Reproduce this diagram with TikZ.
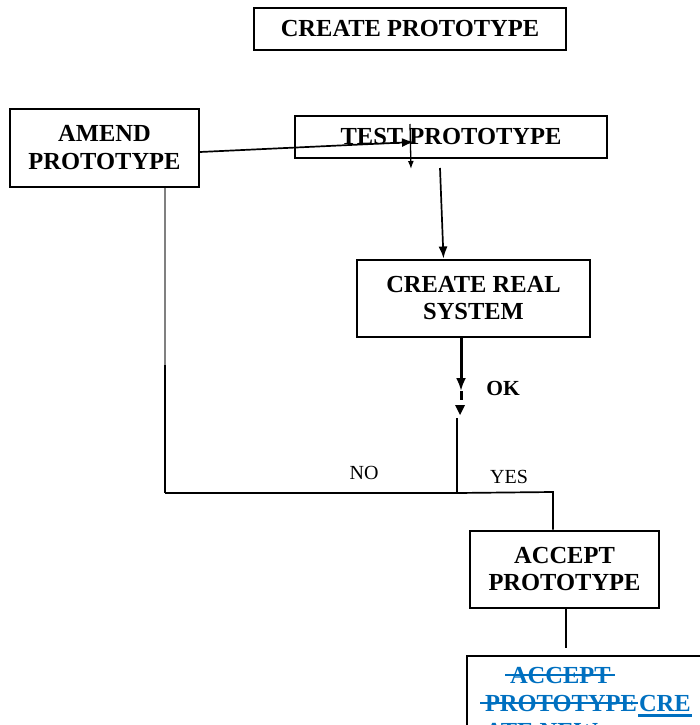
\documentclass[tikz,border=0pt]{standalone}
\usepackage{fontspec}
\setmainfont{Liberation Serif}
\usetikzlibrary{positioning,arrows,arrows.meta,calc}

\definecolor{wordblue}{RGB}{0,112,192}

\begin{document}
\begin{tikzpicture}[>={Latex[length=12pt,width=9pt]},x=1pt,y=-1pt,line width=1.7pt,
                box/.style={draw,line width=2pt,align=center,inner sep=0pt,
                  font=\fontsize{24.5}{27.5}\selectfont\bfseries},
                word/.style={box,draw=none,text=wordblue,anchor=base west},
                lbl/.style={inner sep=0pt,font=\fontsize{20}{24}\selectfont}]

\useasboundingbox (0,0) rectangle (700,725);
\clip (0,0) rectangle (700,725);

\node[box,minimum width=312,minimum height=42] (A) at (410,29)    {CREATE PROTOTYPE};
\node[box,minimum width=189,minimum height=78] (B) at (104.5,147.5) {AMEND\\PROTOTYPE};
\node[box,minimum width=312,minimum height=42] (C) at (451,137)   {TEST PROTOTYPE};
\node[box,minimum width=233,minimum height=77] (D) at (473.5,298) {CREATE REAL\\SYSTEM};
\node[box,minimum width=189,minimum height=77] (E) at (564.5,569) {ACCEPT\\PROTOTYPE};
\node[box,minimum width=260,minimum height=110,anchor=north west] (F) at (466,655) {};

% text of the last box, struck out and underlined
\node[word] (F1) at (509,683) {ACCEPT};
\node[word] (F2) at (484,711) {PROTOTYPE};
\node[word] (F3) [right=0pt of F2.base east,anchor=base west] {CRE};
\node[word] (F4) at (484,739) {ATE NEW};
\draw[wordblue,line width=1.7pt] ($(F1.base west)+(-4,-8)$) -- ($(F1.base east)+(3,-8)$);
\draw[wordblue,line width=1.7pt] ($(F2.base west)+(-4,-8)$) -- ($(F2.base east)+(0,-8)$);
\draw[wordblue,line width=2.8pt] ($(F3.base west)+(0,4.5)$) -- ($(F3.base east)+(0,4.5)$);
\draw[wordblue,line width=2.8pt] ($(F4.base west)+(0,4.5)$) -- ($(F4.base east)+(0,4.5)$);

% labels
\node[lbl,font=\fontsize{21.5}{24}\selectfont\bfseries] (ok) at (503,388) {OK};
\node[lbl] (no)  at (364,473) {NO};
\node[lbl] (yes) at (509,477) {YES};

\coordinate (c1) at (414,142);
\coordinate (c2) at (410,124);
\coordinate (c3) at (411,169);
\coordinate (c4) at (440,168);
\coordinate (k1) at (461,391);
\coordinate (k2) at (461,400);
\coordinate (k3) at (457,418);
\coordinate (j1) at (457,493);
\coordinate (j2) at (165,493);
\coordinate (j3) at (553,492);
\coordinate (g1) at (165,365);
\coordinate (e1) at (566,648);

\draw[->] ($(B.east)+(0,4.5)$) -- (c1);
\draw[-{Latex[length=8pt,width=6pt]},line width=1.3pt] (c2) -- (c3);
\draw[->] (c4) -- ($(D.north)+(-30,0)$);
\draw[-{Latex[length=13pt,width=10pt]},line width=3pt] ($(D.south)+(-12.5,0)$) -- (k1);
\draw[line width=3pt] (k1) -- (k2);
\fill (455,405) -- (465,405) -- (460,415) -- cycle;
\draw (k3) -- (j1);
\draw (j2) -- (j1) -- (j3) -- ($(E.north)+(-11.5,0)$);
\draw[gray,line width=1.2pt] ($(B.south)+(60.5,0)$) -- (g1);
\draw[line width=2pt] (g1) -- (j2);
\draw ($(E.south)+(1.5,0)$) -- (e1);
\end{tikzpicture}
\end{document}
